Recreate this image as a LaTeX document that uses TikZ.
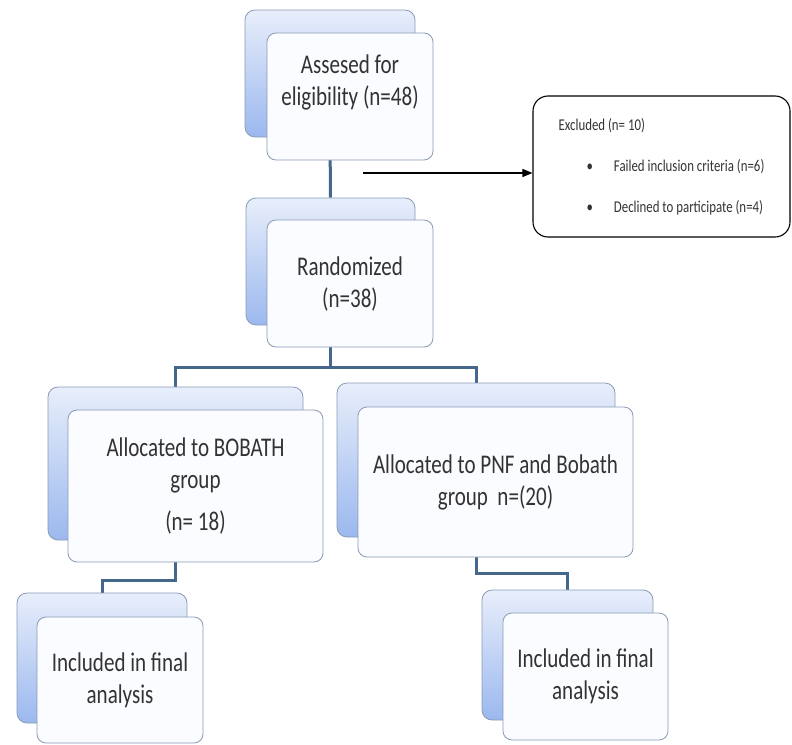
\documentclass[tikz,border=0pt]{standalone}
\usepackage{fontspec}
\setmainfont{Carlito}[FakeStretch=0.78]
\usepackage{xcolor}
\definecolor{BackTop}{RGB}{232,238,251}
\definecolor{BackBottom}{RGB}{155,184,238}
\definecolor{BoxEdge}{RGB}{138,155,181}
\definecolor{FrontFill}{RGB}{251,252,255}
\definecolor{LinkBlue}{RGB}{70,103,140}
\usetikzlibrary{arrows.meta,backgrounds}

\begin{document}
\begin{tikzpicture}[x=1pt,y=1pt,yscale=-1,xscale=1,
		backbox/.style={draw=BoxEdge, line width=0.8pt, rounded corners=10pt, top color=BackTop, bottom color=BackBottom, inner sep=0pt},
		frontbox/.style={draw=BoxEdge, line width=0.8pt, rounded corners=9pt, fill=FrontFill, align=center, inner sep=4pt, text=black!80, font=\fontsize{27}{32}\selectfont},
		exclbox/.style={draw=black, line width=1.1pt, rounded corners=15pt, fill=white, align=left, inner sep=0pt, text=black!80, font=\fontsize{16.5}{20}\selectfont},
		link/.style={draw=LinkBlue, line width=3pt}]
		% Set diagram size to 792 x 744
		\useasboundingbox (0,0) rectangle (792,744);

		% Assessed for eligibility (back and front box)
		\node[backbox, minimum width=170pt, minimum height=127pt] (assessback) at (330,73.5) {};
		\node[frontbox, minimum width=166pt, minimum height=127pt] (assess) at (350,96.5) {Assesed for\\eligibility (n=48)\\\mbox{}};

		% Excluded box on the right
		\node[exclbox, minimum width=257pt, minimum height=141pt] (excluded) at (661.5,166.5) {Excluded (n= 10)\\[21pt]
			\hspace*{28pt}\textbullet\hspace{21pt}Failed inclusion criteria (n=6)\\[21pt]
			\hspace*{28pt}\textbullet\hspace{21pt}Declined to participate (n=4)};

		% Randomized (back and front box)
		\node[backbox, minimum width=169pt, minimum height=127pt] (randback) at (330.5,261.5) {};
		\node[frontbox, minimum width=166pt, minimum height=127pt] (randomized) at (350,283.5) {Randomized\\(n=38)};

		% Allocated to BOBATH (back and front box)
		\node[backbox, minimum width=255pt, minimum height=153pt] (bobathback) at (175.5,463.5) {};
		\node[frontbox, minimum width=255pt, minimum height=152pt] (bobath) at (195.5,486) {Allocated to BOBATH\\group\\[10pt](n= 18)};

		% Allocated to PNF and Bobath (back and front box)
		\node[backbox, minimum width=278pt, minimum height=154pt] (pnfback) at (476,460) {};
		\node[frontbox, minimum width=275pt, minimum height=150pt] (pnf) at (495.5,482) {Allocated to PNF and Bobath\\group\ \ n=(20)};

		% Included in final analysis, left
		\node[backbox, minimum width=170pt, minimum height=130pt] (inclaback) at (102,658) {};
		\node[frontbox, minimum width=166pt, minimum height=126pt] (incla) at (120,680) {Included in final\\analysis};

		% Included in final analysis, right
		\node[backbox, minimum width=171pt, minimum height=130pt] (inclbback) at (567.5,655) {};
		\node[frontbox, minimum width=165pt, minimum height=127pt] (inclb) at (585.5,676.5) {Included in final\\analysis};

		% Connectors behind the boxes
		\begin{scope}[on background layer]
			\draw[link] (assessback.south) -- (randback.north);
			\draw[link] (randback.south) -- ++(0,42) -| (bobathback.north);
			\draw[link] (randback.south) -- ++(0,42) -| (pnfback.north);
			\draw[link] (bobathback.south) -- ++(0,40) -| (inclaback.north);
			\draw[link] (pnfback.south) -- ++(0,36) -| (inclbback.north);
		\end{scope}

		% Arrow to the excluded box
		\coordinate (exclstart) at (363,173);
		\draw[line width=1.2pt, -{Triangle[length=10pt,width=8pt]}] (exclstart) -- (exclstart -| excluded.west);
	\end{tikzpicture}
\end{document}
